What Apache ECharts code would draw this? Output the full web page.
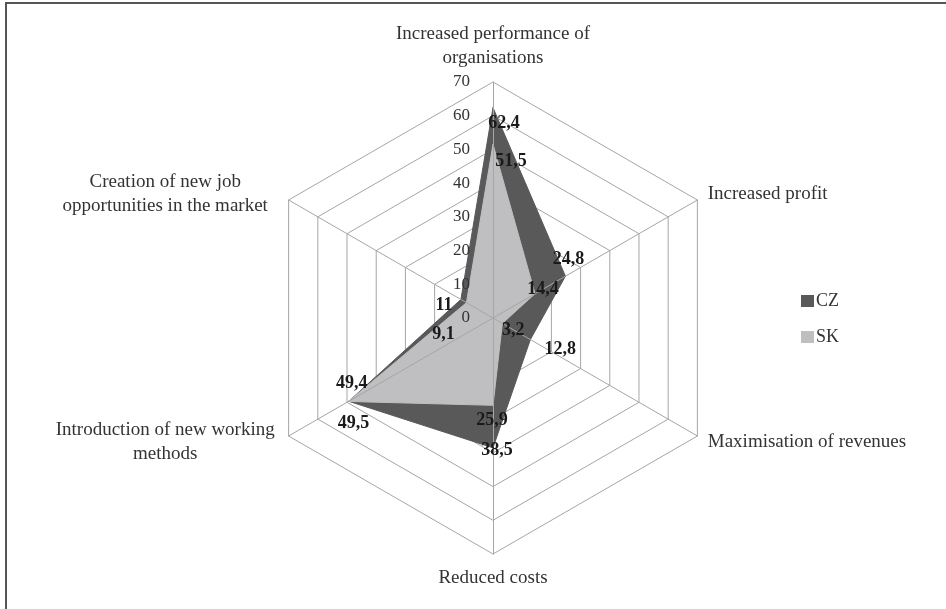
<!DOCTYPE html>
<html>
<head>
<meta charset="utf-8">
<script src="https://cdn.jsdelivr.net/npm/echarts@6/dist/echarts.min.js"></script>
<style>
  html, body { margin: 0; padding: 0; background: #fff; }
  #chart { width: 946px; height: 609px; }
</style>
</head>
<body>
<div id="chart"></div>
<script>
// indicators in echarts order (counter-clockwise from the top)
const indicators = [
  'Increased performance of\norganisations',
  'Creation of new job\nopportunities in the market',
  'Introduction of new working\nmethods',
  'Reduced costs',
  'Maximisation of revenues',
  'Increased profit',
]
const seriesNames = ['CZ', 'SK']
const czValues = [62.4, 11, 49.4, 38.5, 12.8, 24.8]
const skValues = [51.5, 9.1, 49.5, 25.9, 3.2, 14.4]
const axisMax = 70
const axisStep = 10

const FONT = '"Liberation Serif", "DejaVu Serif", serif'
const colors = ['#595959', '#bfbfc2']
const CENTER = [493, 318]
const RADIUS = 236

// label nudges (dx, dy) per vertex, like the excel placement
const nudges = [
  [[11, 16], [-17, 6], [3, -18], [4, 3], [30, 10], [3, -17]],
  [[18, 17], [-23, 32], [5, 22], [-1, 15], [11, 7], [8, -4]],
]

function richFor(s) {
  const rich = {}
  nudges[s].forEach((n, i) => {
    const dx = n[0]
    const dy = n[1]
    rich['d' + i] = {
      fontFamily: FONT,
      fontWeight: 'bold',
      fontSize: 18,
      color: '#1a1a1a',
      padding: [Math.max(0, 2 * dy), Math.max(0, -2 * dx), Math.max(0, -2 * dy), Math.max(0, 2 * dx)],
    }
  })
  return rich
}

// filled polygons, under the spokes
function areaSeries(s, values) {
  return {
    name: seriesNames[s],
    type: 'radar',
    radarIndex: 0,
    z: 2,
    symbol: 'circle',
    symbolSize: 1,
    itemStyle: { color: colors[s] },
    lineStyle: { color: colors[s], width: 1 },
    areaStyle: { color: colors[s], opacity: 1 },
    label: { show: false },
    data: [{ name: seriesNames[s], value: values }],
  }
}

// same values again, only for the data labels on top
function labelSeries(s, values) {
  return {
    name: seriesNames[s],
    type: 'radar',
    radarIndex: 0,
    z: 12,
    symbol: 'circle',
    symbolSize: 0.1,
    itemStyle: { color: 'rgba(0,0,0,0)' },
    lineStyle: { width: 0, opacity: 0 },
    label: {
      show: true,
      position: 'inside',
      formatter: p => {
        const i = values.indexOf(p.value)
        return '{d' + i + '|' + String(p.value).replace('.', ',') + '}'
      },
      rich: richFor(s),
    },
    data: [{ name: seriesNames[s], value: values }],
  }
}

const chart = echarts.init(document.getElementById('chart'))
chart.setOption({
  backgroundColor: '#fff',
  animation: false,
  graphic: [
    {
      type: 'rect',
      shape: { x: 6, y: 3, width: 1000, height: 1000 },
      style: { fill: 'none', stroke: '#555', lineWidth: 2 },
    },
  ],
  legend: {
    orient: 'vertical',
    left: 801,
    top: 292,
    padding: 0,
    itemWidth: 13,
    itemHeight: 12,
    itemGap: 18,
    icon: 'rect',
    data: seriesNames,
    textStyle: { fontFamily: FONT, fontSize: 18, color: '#333', padding: [0, 0, 0, -3] },
  },
  radar: [
    {
      // grid rings and indicator names, under the areas
      center: CENTER,
      radius: RADIUS,
      startAngle: 90,
      shape: 'polygon',
      splitNumber: axisMax / axisStep,
      axisName: {
        color: '#333',
        fontFamily: FONT,
        fontSize: 19,
        lineHeight: 24,
        formatter: name => {
          if (name.indexOf('\n') < 0) return name
          return name.split('\n').map(l => '{c|' + l + '}').join('\n')
        },
        rich: {
          c: { width: 226, align: 'center', fontFamily: FONT, fontSize: 19, lineHeight: 24, color: '#333' },
        },
      },
      nameGap: 12,
      axisLine: { show: false },
      splitLine: { lineStyle: { color: '#a6a6a6', width: 1 } },
      splitArea: { show: false },
      axisTick: { show: false },
      axisLabel: { show: false },
      indicator: indicators.map(name => ({ name, min: 0, max: axisMax })),
    },
    {
      // spokes and the value labels, on top of the areas
      z: 10,
      center: CENTER,
      radius: RADIUS,
      startAngle: 90,
      shape: 'polygon',
      splitNumber: axisMax / axisStep,
      axisName: { show: false },
      axisLine: { lineStyle: { color: '#a6a6a6', width: 1 } },
      splitLine: { show: false },
      splitArea: { show: false },
      axisTick: { show: false },
      axisLabel: { show: false },
      indicator: indicators.map((name, i) => ({
        name,
        min: 0,
        max: axisMax,
        axisLabel: i === 0
          ? { show: true, fontFamily: FONT, fontSize: 17, color: '#333', margin: 23 }
          : { show: false },
      })),
    },
  ],
  series: [
    areaSeries(0, czValues),
    areaSeries(1, skValues),
    labelSeries(0, czValues),
    labelSeries(1, skValues),
  ],
})
</script>
</body>
</html>
